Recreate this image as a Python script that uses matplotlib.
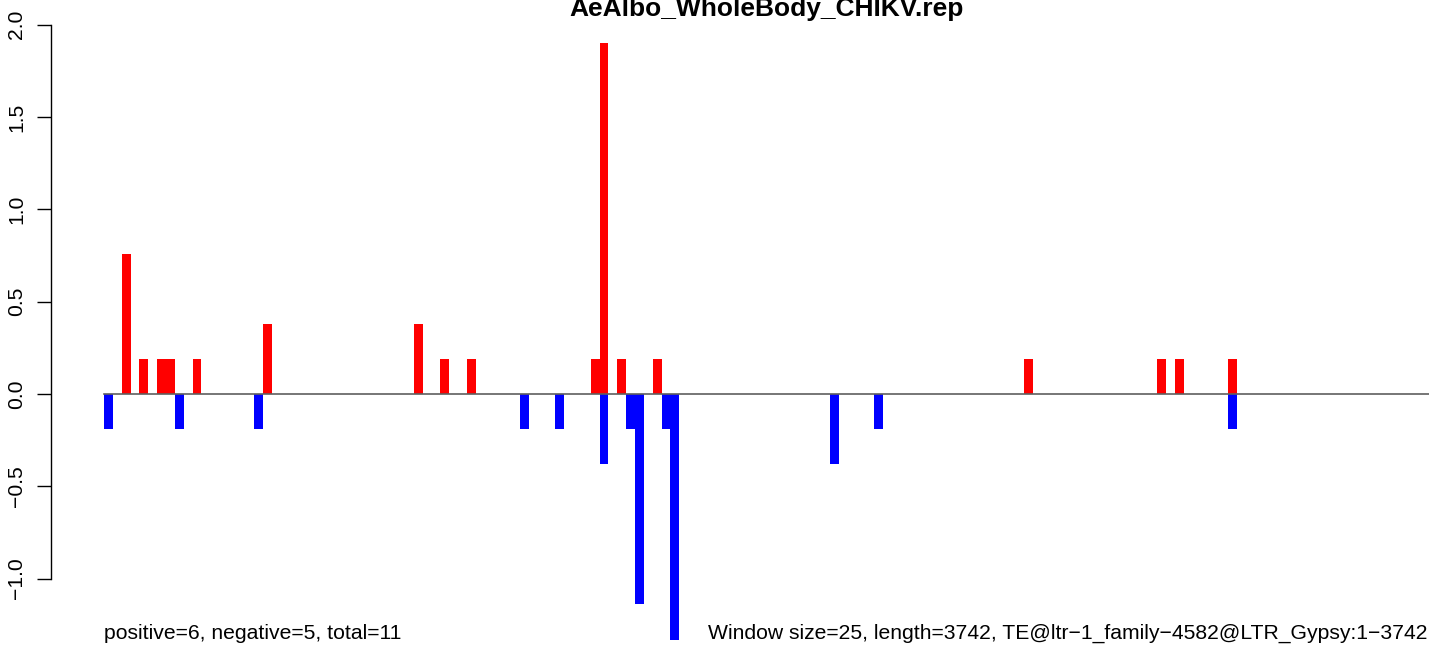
import matplotlib
matplotlib.use("Agg")
import matplotlib.pyplot as plt
import numpy as np

plt.rcParams['font.family'] = ['Liberation Sans', 'DejaVu Sans']

title = "AeAlbo_WholeBody_CHIKV.rep"
n_windows = 150  # ceil(3742 / 25)

pos_windows = [2, 4, 6, 7, 10, 18, 35, 38, 41, 55, 56, 58, 62, 104, 119, 121, 127]
pos_values = [0.76, 0.19, 0.19, 0.19, 0.19, 0.38, 0.38, 0.19, 0.19, 0.19, 1.90, 0.19, 0.19, 0.19, 0.19, 0.19, 0.19]

neg_windows = [0, 8, 17, 47, 51, 56, 59, 60, 63, 64, 82, 87, 127]
neg_values = [-0.19, -0.19, -0.19, -0.19, -0.19, -0.38, -0.19, -1.14, -0.19, -1.33, -0.38, -0.19, -0.19]

yticks = [-1.0, -0.5, 0.0, 0.5, 1.0, 1.5, 2.0]
ytick_labels = ["\u22121.0", "\u22120.5", "0.0", "0.5", "1.0", "1.5", "2.0"]

left_text = "positive=6, negative=5, total=11"
right_text = "Window size=25, length=3742, TE@ltr\u22121_family\u22124582@LTR_Gypsy:1\u22123742"

pos = np.zeros(n_windows)
neg = np.zeros(n_windows)
pos[pos_windows] = pos_values
neg[neg_windows] = neg_values
x = np.arange(n_windows)

W, H = 1429, 645
fig = plt.figure(figsize=(W / 100, H / 100), dpi=100)

# pixel geometry
x0_px, pitch = 104.0, 8.85
zero_px, unit_px = 394.0, 184.6
ax_left_px = 51.0
xmin = (ax_left_px - x0_px) / pitch
xmax = (W - x0_px) / pitch
ytop = zero_px / unit_px
ybot = -(H - zero_px) / unit_px

ax = fig.add_axes([ax_left_px / W, 0, 1 - ax_left_px / W, 1])
ax.set_xlim(xmin, xmax)
ax.set_ylim(ybot, ytop)

ax.bar(x, pos, width=1.0, align='edge', color='#FF0000', linewidth=0)
ax.bar(x, neg, width=1.0, align='edge', color='#0000FF', linewidth=0)
ax.plot([0, n_windows], [0, 0], color='#5f5f5f', lw=1.2, zorder=3)

for s in ['top', 'right', 'bottom']:
    ax.spines[s].set_visible(False)
ax.spines['left'].set_bounds(-1.0, 2.0)
ax.spines['left'].set_linewidth(1.0)
ax.set_xticks([])
ax.set_yticks(yticks)
ax.set_yticklabels(ytick_labels, rotation=90, va='center', fontsize=15.2)
ax.tick_params(axis='y', length=10, width=1.0, pad=8)

fig.text(767 / W, 1 - 16 / H, title, ha='center', va='baseline',
         fontsize=19, fontweight='bold')
fig.text(104 / W, 1 - 639 / H, left_text, ha='left', va='baseline', fontsize=15.2)
fig.text(708 / W, 1 - 639 / H, right_text, ha='left', va='baseline', fontsize=15.2)

fig.savefig("out.png", dpi=100)
